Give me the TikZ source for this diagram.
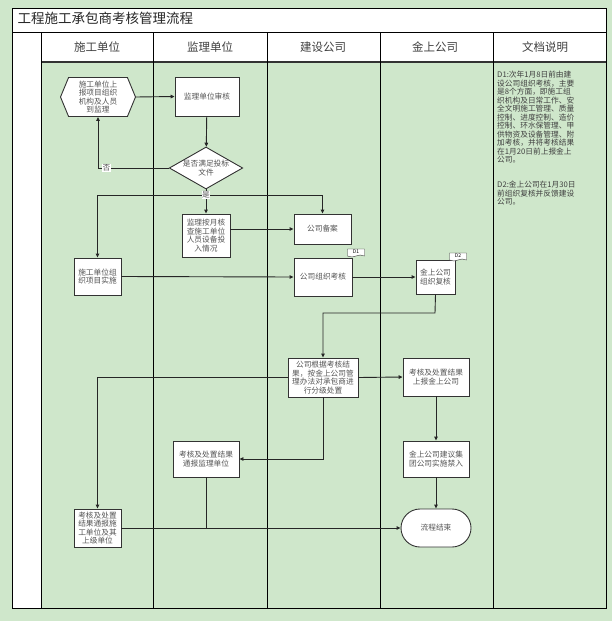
\documentclass[tikz,border=0pt]{standalone}
\usepackage{fontspec}
\setmainfont{Noto Sans CJK SC}
\usepackage{tikz}
\usetikzlibrary{arrows.meta,shapes.geometric,shapes.symbols,shapes.misc}
\definecolor{lanegreen}{RGB}{207,231,203}
\definecolor{boxtext}{RGB}{85,85,85}
\newcommand{\boxfont}{\fontsize{7.7}{8.5}\selectfont}
\tikzset{
  procbox/.style={ draw=black!80, fill=white, line width=0.9pt, align=center, inner sep=0pt, text=boxtext, font=\boxfont }
}
\tikzset{
  hexbox/.style={ procbox, signal, signal to=west and east, signal pointer angle=135 }
}
\tikzset{
  decbox/.style={ procbox, diamond, aspect=1.75 }
}
\tikzset{
  endbox/.style={ procbox, rounded rectangle }
}
\tikzset{
  tagbox/.style={ draw=black!80, fill=white, tape, tape bend top=none, tape bend height=2pt, inner sep=0.5pt, minimum width=17pt, minimum height=8pt, font=\fontsize{5}{5}\selectfont }
}
\tikzset{
  lanehead/.style={ font=\fontsize{11.5}{11.5}\selectfont, text=black!75 }
}
\tikzset{
  yesno/.style={ fill=white, inner sep=0.6pt, text=boxtext, font=\boxfont }
}

\begin{document}
\begin{tikzpicture}[x=1pt, y=-1pt, >={Triangle[length=4pt,width=3.6pt]}]
      \useasboundingbox (0,0) rectangle (612,621);
      \fill[lanegreen] (0,0) rectangle (612,621);
      \fill[white] (12,8) rectangle (606,62);
      \fill[white] (12,62) rectangle (41,608);
      \draw[line width=0.8pt] (12,8) rectangle (606,608);
      \draw[line width=0.8pt] (12,32) -- (606,32);
      \draw[line width=1.2pt, black!80] (41,62) -- (606,62);
      \foreach \x in {41,153,267,380,493}
        \draw[line width=0.8pt] (\x,32) -- (\x,608);

      \node[anchor=west, font=\fontsize{13.5}{13.5}\selectfont, text=black!85] (title) at (14,18) {工程施工承包商考核管理流程};
      \node[lanehead] (hsg) at (97,47) {施工单位};
      \node[lanehead] (hjl) at (210,47) {监理单位};
      \node[lanehead] (hjs) at (323,47) {建设公司};
      \node[lanehead] (hjs) at (435,47) {金上公司};
      \node[lanehead] (hwd) at (545,47) {文档说明};

      \node[hexbox, minimum width=75pt, minimum height=39pt] (shangbao) at (98, 97) {施工单位上\\报项目组织\\机构及人员\\到监理};
      \node[procbox, minimum width=64pt, minimum height=39pt] (shenhe) at (207, 96.5) {监理单位审核};
      \node[decbox, minimum width=70pt, minimum height=40pt] (manzu) at (206, 168) {是否满足投标\\文件};
      \node[procbox, minimum width=48pt, minimum height=43pt] (hecha) at (206, 235.5) {监理按月核\\查施工单位\\人员设备投\\入情况};
      \node[procbox, minimum width=57pt, minimum height=30pt] (beian) at (322.5, 229) {公司备案};
      \node[procbox, minimum width=47pt, minimum height=37pt] (shishi) at (97.5, 276.5) {施工单位组\\织项目实施};
      \node[procbox, minimum width=58pt, minimum height=38pt] (kaohe) at (323, 277) {公司组织考核};
      \node[procbox, minimum width=39pt, minimum height=34pt] (fuhe) at (435.5, 277) {金上公司\\组织复核};
      \node[tagbox] (d1) at (356, 252) {D1};
      \node[tagbox] (d2) at (458, 256) {D2};
      \node[procbox, minimum width=70pt, minimum height=39pt] (chuzhi) at (323, 377.5) {公司根据考核结\\果，按金上公司管\\理办法对承包商进\\行分级处置};
      \node[procbox, minimum width=66pt, minimum height=38pt] (shangjin) at (436, 377) {考核及处置结果\\上报金上公司};
      \node[procbox, minimum width=66pt, minimum height=36pt] (jinru) at (436, 459) {金上公司建议集\\团公司实施禁入};
      \node[endbox, minimum width=70pt, minimum height=38pt] (jieshu) at (436, 528) {流程结束};
      \node[procbox, minimum width=66pt, minimum height=36pt] (tongjl) at (206, 459) {考核及处置结果\\通报监理单位};
      \node[procbox, minimum width=47pt, minimum height=38pt] (tongsg) at (97.5, 528) {考核及处置\\结果通报施\\工单位及其\\上级单位};

      \node[anchor=north west, align=left, inner sep=0pt, text=black!75, font=\boxfont] (doc1) at (497, 71) {D1:次年1月8日前由建\\设公司组织考核，主要\\是8个方面，即施工组\\织机构及日常工作、安\\全文明施工管理、质量\\控制、进度控制、造价\\控制、环水保管理、甲\\供物资及设备管理、附\\加考核，并将考核结果\\在1月20日前上报金上\\公司。};
      \node[anchor=north west, align=left, inner sep=0pt, text=black!75, font=\boxfont] (doc2) at (497, 181) {D2:金上公司在1月30日\\前组织复核并反馈建设\\公司。};

      \begin{scope}[line width=0.9pt, black!85]
      \coordinate (shi) at (206, 195);
      \coordinate (turn) at (435, 313);
      \draw[->] (shangbao.east) -- (shenhe.west);
      \draw[->] (shenhe) edge (manzu);
      \draw[->] (manzu.west) -| node[yesno, pos=0.44] {否} (shangbao.south);
      \draw[->] (manzu.south) -- (hecha.north);
      \draw[->] (shi) -| (shishi.north);
      \draw[->] (shi) -| (beian.north);
      \node[yesno] (shilabel) at (shi) {是};
      \draw[->] (hecha.east |- beian.west) -- (beian.west);
      \draw[->] (shishi.east) -- (kaohe.west);
      \draw[->] (kaohe.east) -- (fuhe.west);
      \draw[->] (fuhe.south) -- (turn) -| (chuzhi.north);
      \draw[->] (chuzhi.east) -- (shangjin.west);
      \draw[->] (shangjin) edge (jinru);
      \draw[->] (jinru) edge (jieshu);
      \draw[->] (chuzhi.south) |- (tongjl.east);
      \draw[->] (chuzhi.west) -| (tongsg.north);
      \draw[->] (tongsg.east) -- (jieshu.west);
      \draw (tongjl.south) -- (tongjl.south |- jieshu.west);
      \end{scope}
    \end{tikzpicture}
\end{document}
